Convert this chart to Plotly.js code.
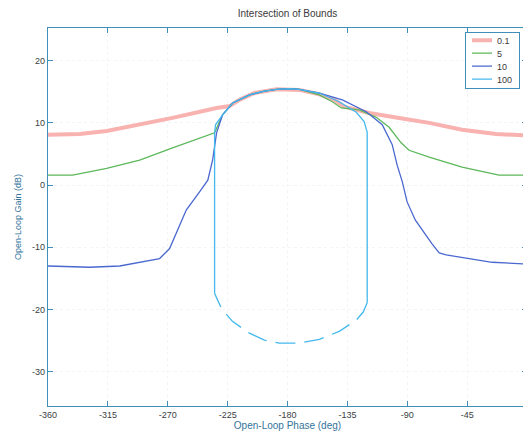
<!DOCTYPE html>
<html>
<head>
<meta charset="utf-8">
<script src="https://cdn.plot.ly/plotly-3.0.1.min.js"></script>
<style>
html,body{margin:0;padding:0;overflow:hidden;background:#fff;width:523px;height:434px;}
#chart{width:528px;height:434px;}
</style>
</head>
<body>
<div id="chart"></div>
<script>
// Series (phase in deg, gain in dB)
const phase01 = [-360, -336.2, -315.9, -291.1, -266.4, -233.3, -223.5, -216.1, -204.9, -188.3, -171.1, -156.1, -144.8, -137.3, -118.6, -96.1, -86.3, -73.5, -48.8, -23.2, 0];
const gain01  = [8.1, 8.2, 8.7, 9.7, 10.8, 12.4, 12.7, 13.7, 14.8, 15.4, 15.3, 14.6, 13.7, 12.6, 11.6, 10.8, 10.5, 10.0, 8.9, 8.2, 8.0];

const phase5 = [-360, -341.5, -315.9, -291.1, -266.4, -234.8, -228.8, -221.2, -208.5, -197.3, -188.3, -178.5, -171.1, -156.1, -146.3, -139.6, -126.1, -113.3, -103.6, -97.6, -94.6, -88.6, -73.5, -48.8, -21.0, 0];
const gain5  = [1.6, 1.6, 2.7, 4.0, 6.0, 8.4, 11.3, 13.2, 14.5, 15.1, 15.4, 15.5, 15.4, 14.5, 13.4, 12.4, 12.1, 10.9, 9.3, 7.6, 6.8, 5.6, 4.5, 2.9, 1.6, 1.6];

const phase10 = [-360, -328.7, -306.1, -276.1, -268.6, -256.1, -246.1, -239.9, -236.3, -233.3, -228.8, -221.2, -208.5, -197.3, -188.3, -178.5, -171.1, -156.1, -138.8, -120.8, -108.8, -101.3, -97.6, -93.8, -90.1, -84.0, -71.5, -66.0, -60.8, -26.2, 0];
const gain10  = [-13.0, -13.2, -13.0, -11.8, -10.2, -4.0, -1.1, 0.8, 4.0, 8.4, 11.3, 13.2, 14.5, 15.1, 15.4, 15.5, 15.4, 14.8, 13.7, 11.8, 9.7, 6.5, 3.2, 0.6, -2.7, -5.6, -9.4, -10.9, -11.2, -12.4, -12.7];

const phase100 = [-234.8, -234.8, -234.1, -228.8, -221.2, -208.5, -197.3, -188.3, -178.5, -171.1, -156.1, -141.1, -128.3, -122.4, -120.1, -120.1];
const gain100  = [-17.4, 8.4, 9.7, 11.3, 13.2, 14.5, 15.1, 15.4, 15.5, 15.4, 14.8, 13.4, 11.7, 10.2, 8.5, -18.9];

const phase100Low = [-120.1, -123.1, -128.3, -141.1, -156.1, -171.1, -186.1, -197.4, -208.6, -221.4, -229.7, -234.8];
const gain100Low  = [-18.9, -20.4, -21.7, -23.5, -24.8, -25.4, -25.4, -24.9, -23.8, -21.9, -19.8, -17.4];

const names = ['0.1', '5', '10', '100'];
const xTicks = [-360, -315, -270, -225, -180, -135, -90, -45, 0];
const yTicks = [-30, -20, -10, 0, 10, 20];

const traces = [
  {x: phase01, y: gain01, name: names[0], mode: 'lines', line: {color: '#f8b2b0', width: 4}},
  {x: phase5, y: gain5, name: names[1], mode: 'lines', line: {color: '#5cb85a', width: 1.3}},
  {x: phase10, y: gain10, name: names[2], mode: 'lines', line: {color: '#4a68d0', width: 1.3}},
  {x: phase100, y: gain100, name: names[3], mode: 'lines', line: {color: '#44b8ee', width: 1.3}},
  {x: phase100Low, y: gain100Low, name: names[3], showlegend: false, mode: 'lines', line: {color: '#44b8ee', width: 1.3, dash: '20px,9px'}}
];

const axisColor = '#3f8fb8';
const labelColor = '#33739a';
const fontFam = '"Liberation Sans", Arial, sans-serif';

const layout = {
  width: 528, height: 434,
  margin: {l: 48, r: 0, t: 28, b: 28, pad: 0},
  paper_bgcolor: '#ffffff', plot_bgcolor: '#ffffff',
  font: {family: fontFam, size: 9, color: '#3a3a3a'},
  title: {text: 'Intersection of Bounds', font: {family: fontFam, size: 10, color: '#3a3a3a'}, x: 0.5, xref: 'paper', y: 0.968, yref: 'container', yanchor: 'middle'},
  xaxis: {
    range: [-360, 0], tickvals: xTicks, ticktext: xTicks.map(String),
    ticks: 'inside', ticklen: 5, tickcolor: axisColor, showline: true, linecolor: axisColor, linewidth: 1.2,
    mirror: 'ticks', showgrid: true, gridcolor: '#f1f5f8', griddash: 'dot', zeroline: false,
    tickfont: {family: fontFam, size: 9, color: '#3a3f44'},
    title: {text: 'Open-Loop Phase (deg)', font: {family: fontFam, size: 10, color: labelColor}, standoff: 2}
  },
  yaxis: {
    range: [-35.5, 25.25], tickvals: yTicks, ticktext: yTicks.map(String),
    ticks: 'inside', ticklen: 5, tickcolor: axisColor, showline: true, linecolor: axisColor, linewidth: 1.2,
    mirror: 'ticks', showgrid: true, gridcolor: '#f1f5f8', griddash: 'dot', zeroline: false,
    tickfont: {family: fontFam, size: 9, color: '#3a3f44'},
    title: {text: 'Open-Loop Gain (dB)', font: {family: fontFam, size: 9, color: labelColor}, standoff: 8}
  },
  showlegend: true,
  legend: {
    x: 0.871, xanchor: 'left', y: 0.989, yanchor: 'top',
    bgcolor: '#ffffff', bordercolor: axisColor, borderwidth: 1.2,
    font: {family: fontFam, size: 9, color: '#3a3a3a'},
    itemwidth: 30, tracegroupgap: 0
  }
};

function transY(g) {
  const m = /translate\(\s*[-\d.e]+\s*[, ]\s*([-\d.e]+)/.exec(g.getAttribute('transform') || '');
  return m ? parseFloat(m[1]) : 0;
}

const gd = document.getElementById('chart');
Plotly.newPlot(gd, traces, layout, {displayModeBar: false, staticPlot: true}).then(function () {
  // compact the legend rows (MATLAB-style tight legend), keeping Plotly's own item order
  const leg = gd.querySelector('.legend');
  if (!leg) return;
  const items = Array.from(leg.querySelectorAll('g.traces'));
  items.sort(function (a, b) { return transY(a) - transY(b); });
  items.forEach(function (g, i) {
    g.setAttribute('transform', 'translate(0,' + (8 + 13 * i) + ')');
    g.querySelectorAll('.legendlines path').forEach(function (p) {
      p.setAttribute('d', 'M7,0h20');
    });
    const t = g.querySelector('text.legendtext');
    if (t) t.setAttribute('x', 32);
  });
  const bg = leg.querySelector('rect.bg');
  if (bg) { bg.setAttribute('height', 56); bg.setAttribute('width', 54); }
});
</script>
</body>
</html>
